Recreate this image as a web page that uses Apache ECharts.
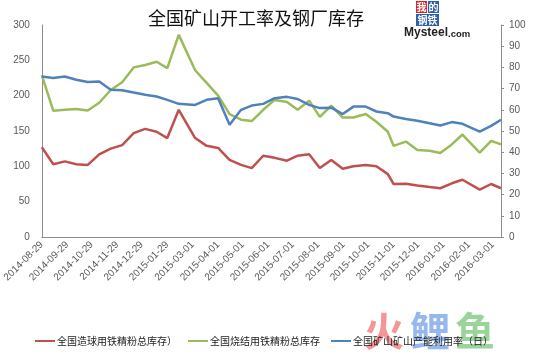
<!DOCTYPE html>
<html>
<head>
<meta charset="utf-8">
<script src="https://cdn.jsdelivr.net/npm/echarts@6/dist/echarts.min.js"></script>
<style>
html,body{margin:0;padding:0;background:#fff;}
#c{width:554px;height:355px;}
</style>
</head>
<body>
<div id="c"></div>
<script>
// ---- data ----
const dates = [
  '2014-08-29','2014-09-12','2014-09-26','2014-10-10','2014-10-24','2014-11-07','2014-11-21',
  '2014-12-05','2014-12-19','2015-01-02','2015-01-16','2015-01-29','2015-02-12','2015-03-04',
  '2015-03-18','2015-04-01','2015-04-15','2015-04-29','2015-05-12','2015-05-26','2015-06-09',
  '2015-06-24','2015-07-07','2015-07-21','2015-08-03','2015-08-17','2015-08-31','2015-09-13',
  '2015-09-28','2015-10-11','2015-10-25','2015-11-01','2015-11-16','2015-11-30','2015-12-15',
  '2015-12-28','2016-01-11','2016-01-24','2016-02-14','2016-02-28','2016-03-11'
];
const pelletStock = [127,103,107,103,102,117,125,130,147,153,149,140,180,140,129,126,109,102,97.5,115,112,
  108,115,117,97.5,109,96.5,100,102,100,89,75,75.5,73,70.6,69,76,81,67,75,69];
const sinterStock = [229,178.5,180,181,179,190,208,219,240,243.5,248,239,286,236,218,200,174,166,164,180,194,
  191,180,193,170,186,169,169,174,163,149,129,135,123,122,119,131,145,119.5,136,131];
const mineRate = [75.7,75,75.7,74.2,73.1,73.4,69.5,69.2,68.2,67.1,66.3,64.7,62.8,62.3,64.7,65.5,52.9,60,62,62.8,65.5,
  66.1,65.1,62.3,60.8,61,58,61.5,61.5,59.2,58.4,56.8,55.7,54.8,53.7,52.6,54.2,53.4,49.7,52.4,55.3];
const tickLabels = ['2014-08-29','2014-09-29','2014-10-29','2014-11-29','2014-12-29','2015-01-29','2015-03-01',
  '2015-04-01','2015-05-01','2015-06-01','2015-07-01','2015-08-01','2015-09-01','2015-10-01','2015-11-01',
  '2015-12-01','2016-01-01','2016-02-01','2016-03-01'];
const seriesNames = ['全国造球用铁精粉总库存）','全国烧结用铁精粉总库存','全国矿山矿山产能利用率（日）'];
const titleText = '全国矿山开工率及钢厂库存';

function ts(s){ const p = s.split('-').map(Number); return new Date(p[0], p[1]-1, p[2]).getTime(); }
function pad(n){ return (n<10?'0':'')+n; }
function fmt(v){ const d = new Date(v); return d.getFullYear()+'-'+pad(d.getMonth()+1)+'-'+pad(d.getDate()); }

const FONT = '"Liberation Sans","Noto Sans CJK SC",sans-serif';
const CJK = '"Noto Sans CJK SC",sans-serif';
const chart = echarts.init(document.getElementById('c'), null, {renderer:'canvas'});
chart.setOption({
  animation:false,
  backgroundColor:'#fff',
  title:{text:titleText,left:143,top:4,textStyle:{fontFamily:CJK,fontSize:18,fontWeight:'normal',color:'#111'}},
  grid:{left:40,right:53,top:25,bottom:118},
  legend:{
    left:35, top:336, padding:0, icon:'rect', itemWidth:20, itemHeight:2, itemGap:11,
    textStyle:{fontFamily:CJK,fontSize:10,color:'#222',padding:[0,0,0,-3]},
    data:seriesNames
  },
  xAxis:{
    type:'value', min:ts(dates[0]), max:ts(dates[dates.length-1]),
    axisLine:{show:true,lineStyle:{color:'#8c8c8c',width:1}},
    axisTick:{show:false},
    splitLine:{show:false},
    axisLabel:{customValues:tickLabels.map(ts),formatter:fmt,rotate:45,fontSize:10,color:'#595959',fontFamily:FONT,margin:6}
  },
  yAxis:[
    {type:'value',min:0,max:300,interval:50,
     axisLine:{show:true,lineStyle:{color:'#8c8c8c'}},axisTick:{show:false},splitLine:{show:false},
     axisLabel:{fontSize:10,color:'#595959',fontFamily:FONT,margin:12}},
    {type:'value',min:0,max:100,interval:10,position:'right',
     axisLine:{show:true,lineStyle:{color:'#8c8c8c'}},axisTick:{show:true,length:3,lineStyle:{color:'#8c8c8c'}},splitLine:{show:false},
     axisLabel:{fontSize:10,color:'#595959',fontFamily:FONT,margin:8}}
  ],
  series:[
    {name:seriesNames[0],type:'line',yAxisIndex:0,symbol:'none',color:'#C0504D',lineStyle:{width:2.5,color:'#C0504D'},
     data:dates.map((d,i)=>[ts(d),pelletStock[i]])},
    {name:seriesNames[1],type:'line',yAxisIndex:0,symbol:'none',color:'#9BBB59',lineStyle:{width:2.5,color:'#9BBB59'},
     data:dates.map((d,i)=>[ts(d),sinterStock[i]])},
    {name:seriesNames[2],type:'line',yAxisIndex:1,symbol:'none',color:'#4F81BD',lineStyle:{width:2.5,color:'#4F81BD'},
     data:dates.map((d,i)=>[ts(d),mineRate[i]])}
  ],
  graphic:[
    {type:'rect',shape:{x:416,y:1,width:11,height:12},style:{fill:'#d9232d'}},
    {type:'text',x:421.5,y:7,style:{text:'我',fill:'#fff',fontSize:10,fontWeight:'bold',align:'center',verticalAlign:'middle',fontFamily:CJK}},
    {type:'rect',shape:{x:428,y:1,width:11,height:12},style:{fill:'#2f5fa8'}},
    {type:'text',x:433.5,y:7,style:{text:'的',fill:'#fff',fontSize:10,fontWeight:'bold',align:'center',verticalAlign:'middle',fontFamily:CJK}},
    {type:'rect',shape:{x:416,y:14,width:23,height:12},style:{fill:'#2f5fa8'}},
    {type:'text',x:427.5,y:20,style:{text:'钢铁',fill:'#fff',fontSize:10,fontWeight:'bold',align:'center',verticalAlign:'middle',fontFamily:CJK}},
    {type:'text',x:404,y:27,style:{text:'{a|Mysteel}{b|.com}',rich:{
      a:{fill:'#222',fontSize:12,fontWeight:'bold',fontFamily:'"Liberation Sans"',verticalAlign:'bottom'},
      b:{fill:'#222',fontSize:9.5,fontWeight:'bold',fontFamily:'"Liberation Sans"',verticalAlign:'bottom'}}}},
    {type:'text',x:364,y:311,z:-1,style:{text:'火',fill:'rgba(240,115,115,0.75)',fontSize:40,fontWeight:'bold',fontFamily:CJK}},
    {type:'text',x:410,y:311,z:-1,style:{text:'鲤',fill:'rgba(115,160,232,0.75)',fontSize:40,fontWeight:'bold',fontFamily:CJK}},
    {type:'text',x:455,y:311,z:-1,style:{text:'鱼',fill:'rgba(120,198,120,0.75)',fontSize:40,fontWeight:'bold',fontFamily:CJK}}
  ]
});
</script>
</body>
</html>
